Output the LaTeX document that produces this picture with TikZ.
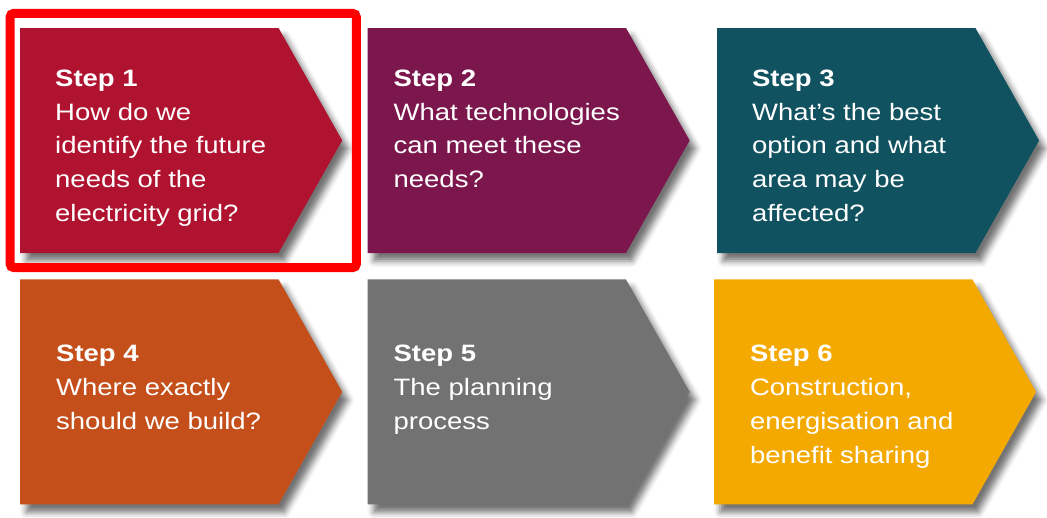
\documentclass[tikz,border=0pt]{standalone}
\usepackage{fontspec}
\setmainfont[FakeStretch=1.16]{Liberation Sans}
\usepackage{tikz}
\usepackage{xcolor}
\usetikzlibrary{shapes.symbols, positioning, shadows.blur, fit}
\definecolor{stepone}{HTML}{B01330}
\definecolor{steptwo}{HTML}{7C174D}
\definecolor{stepthree}{HTML}{10525F}
\definecolor{stepfour}{HTML}{C44F1B}
\definecolor{stepfive}{HTML}{727272}
\definecolor{stepsix}{HTML}{F4A900}
\tikzstyle{stepbox} = [signal, 
signal to=east, 
signal pointer angle=121, 
minimum width=322pt, 
minimum height=225pt, 
inner sep=0pt,
blur shadow={shadow xshift=6pt, shadow yshift=-8pt, shadow blur radius=6pt, shadow opacity=55}]
\tikzstyle{steptext} = [anchor=north west, 
inner sep=0pt, 
align=left, 
text=white, 
font=\fontsize{23.7}{33.7}\selectfont]

\begin{document}
\begin{tikzpicture}[x=1pt, y=-1pt, node distance=25pt]
        \useasboundingbox (0,0) rectangle (1047,517);
        % Flechas de los pasos
        \node (step1) [stepbox, fill=stepone, anchor=west] at (20,140.5) {};
        \node (step2) [stepbox, fill=steptwo, right=25pt of step1] {};
        \node (step3) [stepbox, fill=stepthree, right=27pt of step2] {};
        \node (step4) [stepbox, fill=stepfour, below=26pt of step1] {};
        \node (step5) [stepbox, fill=stepfive, right=25pt of step4] {};
        \node (step6) [stepbox, fill=stepsix, right=24pt of step5] {};

        % Textos
        \node (txt1) [steptext] at ([xshift=35pt, yshift=-42pt]step1.north west) {\textbf{Step 1}\\How do we\\identify the future\\needs of the\\electricity grid?};
        \node (txt2) [steptext] at ([xshift=26pt, yshift=-42pt]step2.north west) {\textbf{Step 2}\\What technologies\\can meet these\\needs?};
        \node (txt3) [steptext] at ([xshift=35pt, yshift=-42pt]step3.north west) {\textbf{Step 3}\\What’s the best\\option and what\\area may be\\affected?};
        \node (txt4) [steptext] at ([xshift=36pt, yshift=-66pt]step4.north west) {\textbf{Step 4}\\Where exactly\\should we build?};
        \node (txt5) [steptext] at ([xshift=26pt, yshift=-66pt]step5.north west) {\textbf{Step 5}\\The planning\\process};
        \node (txt6) [steptext] at ([xshift=36pt, yshift=-66pt]step6.north west) {\textbf{Step 6}\\Construction,\\energisation and\\benefit sharing};

        % Marco rojo del paso actual
        \node (focus) [draw=red, line width=9pt, rounded corners=4pt, fit=(step1), inner xsep=12pt, inner ysep=14.5pt, xshift=2pt] {};
\end{tikzpicture}
\end{document}
